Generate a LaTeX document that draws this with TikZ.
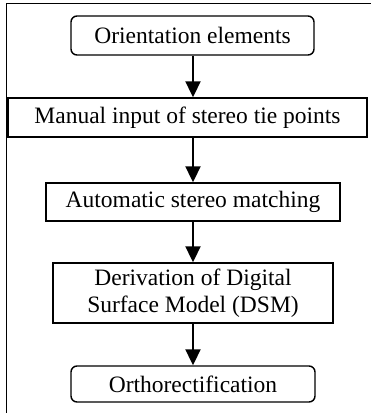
\documentclass[tikz,border=0pt]{standalone}
\usepackage{fontspec}
\setmainfont{Liberation Serif}
\usetikzlibrary{arrows.meta}
\begin{document}
\begin{tikzpicture}[x=1bp,y=-1bp,
  every node/.style={font=\fontsize{23.5bp}{27.5bp}\selectfont, inner sep=0pt, align=center},
  rbox/.style={draw, line width=1.4bp, rounded corners=6bp},
  sbox/.style={draw, line width=1.4bp},
  flow/.style={line width=2bp, -{Triangle[length=16bp,width=15bp]}}]
\useasboundingbox (0,0) rectangle (371,413);
\clip (0,0) rectangle (371,413);
\draw[line width=1.6bp] (6.5,430) -- (6.5,3.5) -- (390,3.5);
\node[rbox, minimum width=243bp, minimum height=39bp] (n1) at (192.5,35.5) {Orientation elements};
\node[sbox, minimum width=359bp, minimum height=39bp] (n2) at (187.5,117.5) {Manual input of stereo tie points};
\node[sbox, minimum width=294bp, minimum height=38bp] (n3) at (193,202) {Automatic stereo matching};
\node[sbox, minimum width=280bp, minimum height=60bp] (n4) at (193,293) {Derivation of Digital\\Surface Model (DSM)};
\node[rbox, minimum width=244bp, minimum height=36bp] (n5) at (193,384) {Orthorectification};
\draw[flow] (n3.north |- n1.south) -- (n3.north |- n2.north);
\draw[flow] (n3.north |- n2.south) -- (n3.north);
\draw[flow] (n3.south) -- (n4.north);
\draw[flow] (n4.south) -- (n5.north);
\end{tikzpicture}
\end{document}
